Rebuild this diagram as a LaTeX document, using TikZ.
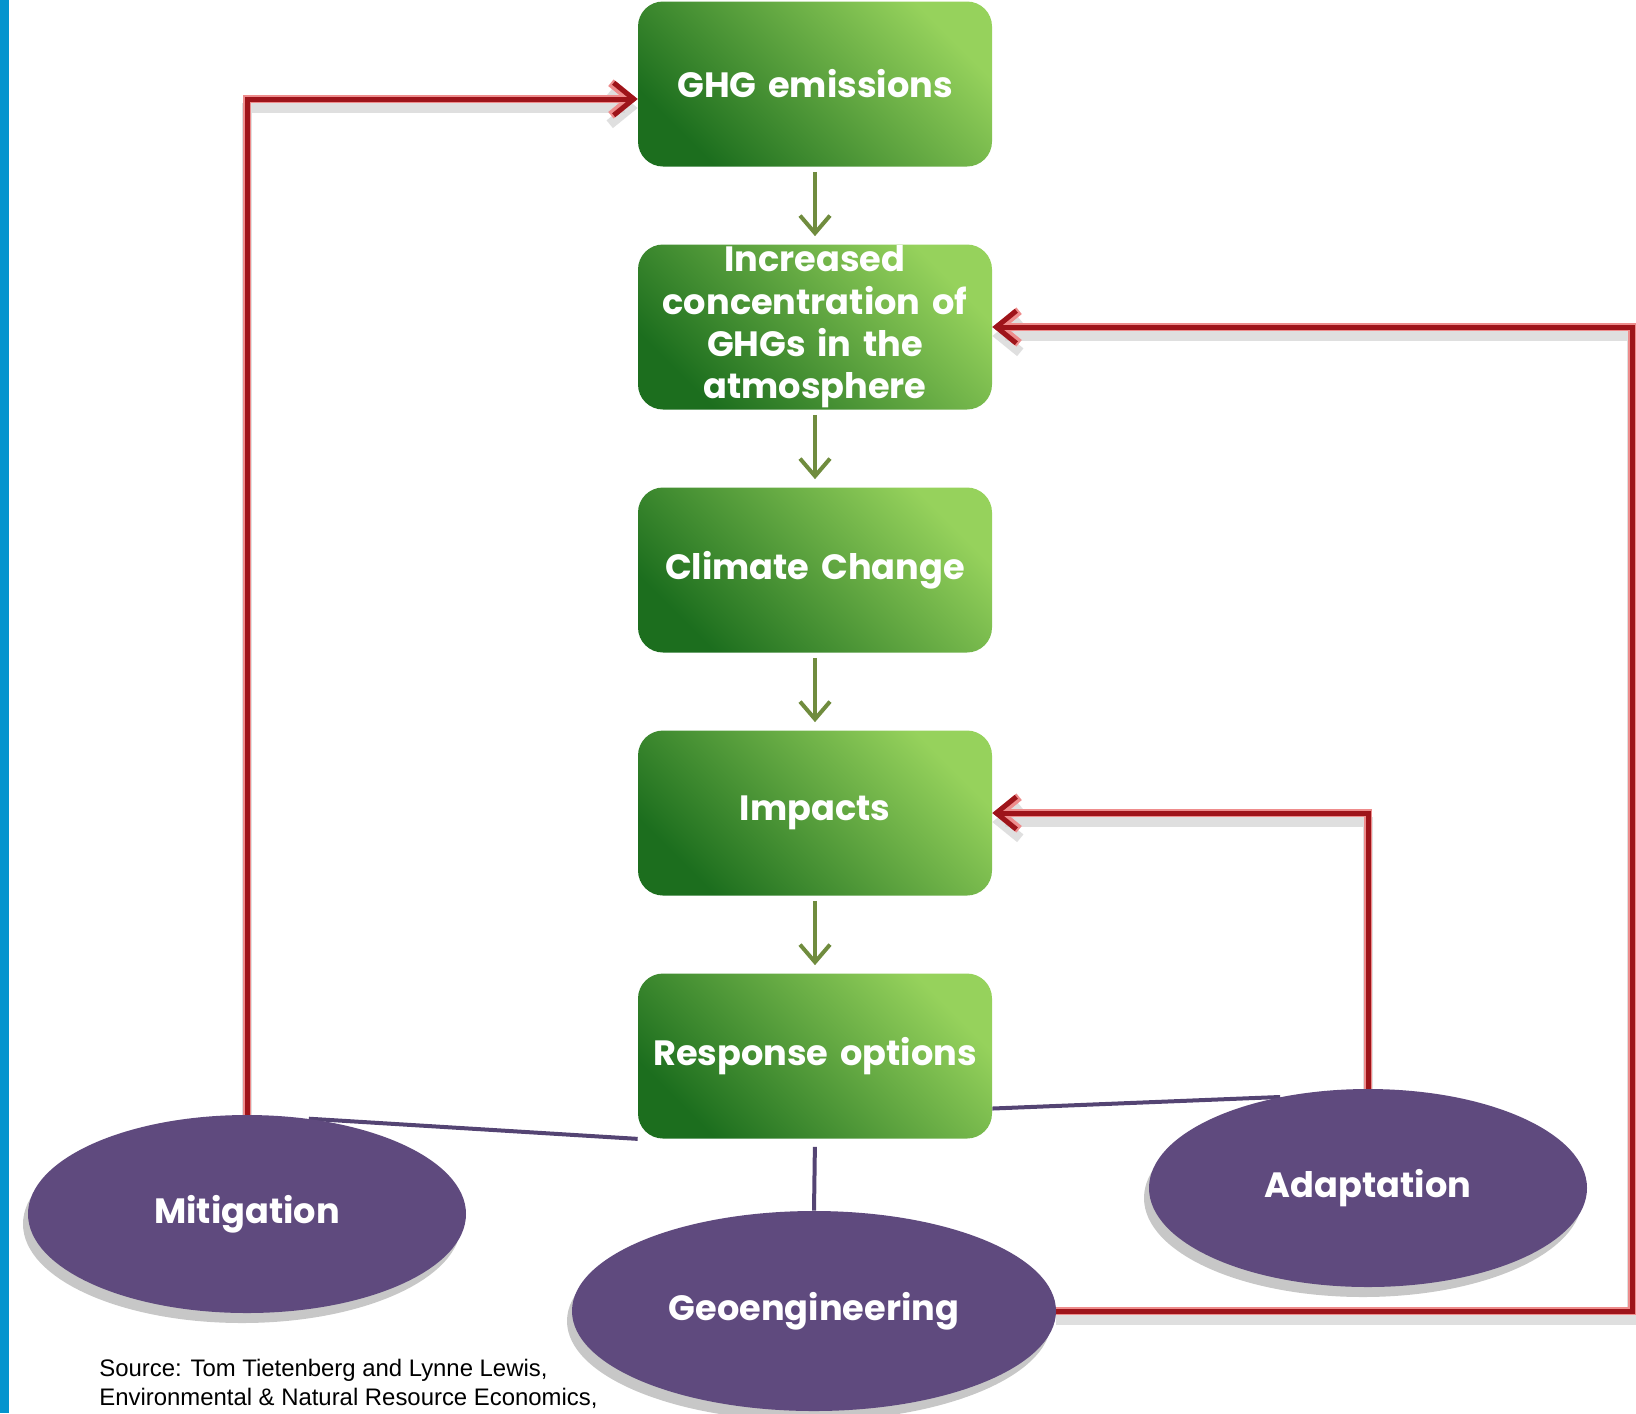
\documentclass[tikz,border=0pt]{standalone}
\usepackage{fontspec}
\setmainfont{Poppins}
\newfontfamily\srcfont{Liberation Sans}
\usetikzlibrary{arrows.meta,positioning,shapes.geometric,shadows,backgrounds}
\definecolor{boxdark}{RGB}{28,110,30}
\definecolor{boxmid}{RGB}{58,148,46}
\definecolor{boxlight}{RGB}{150,210,92}
\definecolor{optpurple}{RGB}{95,74,126}
\definecolor{linkpurple}{RGB}{84,68,115}
\definecolor{flowgreen}{RGB}{112,140,62}
\definecolor{fbred}{RGB}{158,20,26}
\definecolor{fbglow}{RGB}{238,140,140}
\definecolor{barblue}{RGB}{4,148,206}
\tikzset{%
  % Specifications for style of nodes:
            base/.style = {rectangle, rounded corners=5mm,
                           minimum width=70.8mm, minimum height=33mm,
                           text width=68mm, inner sep=0pt, align=center,
                           text=white,
                           font=\fontsize{20}{24.1}\selectfont\bfseries},
		boxstyle/.style = {base, top color=boxlight, middle color=boxmid,
                           bottom color=boxdark, shading angle=-45},
		optstyle/.style = {ellipse, fill=optpurple, inner sep=0pt,
                           minimum width=87.6mm, minimum height=39.6mm,
                           text=white,
                           font=\fontsize{20}{24}\selectfont\bfseries,
                           drop shadow={shadow xshift=-1mm, shadow yshift=-2mm,
                                        fill=gray!80, opacity=.55}},
  % Specifications for style of connectors:
		flow/.style = {draw=flowgreen, line width=.8mm,
                           -{Straight Barb[length=3.5mm,width=6mm]},
                           shorten <=1mm, shorten >=1.6mm},
		feedback/.style = {draw=fbred, line width=1mm,
                           -{Straight Barb[length=4mm,width=6.5mm]},
                           preaction={draw=gray!35, line width=2mm, opacity=.7,
                                      transform canvas={yshift=-1.8mm}},
                           preaction={draw=fbglow, line width=1.7mm}},
		link/.style = {draw=linkpurple, line width=.8mm},
}
\begin{document}
\begin{tikzpicture}[x=0.2mm, y=-0.2mm, node distance=48.6mm]
  \useasboundingbox (0,0) rectangle (1636,1413);
  \fill[barblue] (0,0) rectangle (9,1413);

  % Specification of nodes (position, etc.)
  \node (ghg)     [boxstyle] at (815,84)      {GHG emissions};
  \node (conc)    [boxstyle, below of=ghg]    {Increased\\concentration of\\GHGs in the\\atmosphere};
  \node (climate) [boxstyle, below of=conc]   {Climate Change};
  \node (impacts) [boxstyle, below of=climate] {Impacts};
  \node (resp)    [boxstyle, below of=impacts] {Response options};

  \node (mit)   [optstyle] at (247,1214)  {Mitigation};
  \node (adapt) [optstyle] at (1368,1188) {Adaptation};
  \node (geo)   [optstyle, minimum width=96.8mm, minimum height=40mm] at (814,1311) {Geoengineering};

  \node (src) [anchor=north west, align=left, inner sep=0pt,
               font=\srcfont\fontsize{13.6}{16.5}\selectfont] at (99,1359)
    {Source: Tom Tietenberg and Lynne Lewis,\\Environmental \& Natural Resource Economics,};

  \coordinate (ghgin) at ([yshift=-3mm]ghg.west);
  \coordinate (rim)   at (1632,0);

  % Specification of lines between nodes specified above
  \draw[flow] (ghg)     -- (conc);
  \draw[flow] (conc)    -- (climate);
  \draw[flow] (climate) -- (impacts);
  \draw[flow] (impacts) -- (resp);

  \begin{scope}[on background layer]
    \draw[link] (mit.57) -- (resp.south west);
    \draw[link] ([yshift=-10.5mm]resp.east) -- (adapt.134);
    \draw[link, shorten <=1.6mm] (resp.south) -- (geo.north);
    % feedback from the response options
    \draw[feedback] ([yshift=-2mm]mit.north) |- (ghgin);
    \draw[feedback] ([yshift=-2mm]adapt.north) |- (impacts.east);
    \draw[feedback] (geo.east) -- (geo.east -| rim) |- (conc.east);
  \end{scope}
\end{tikzpicture}
\end{document}
